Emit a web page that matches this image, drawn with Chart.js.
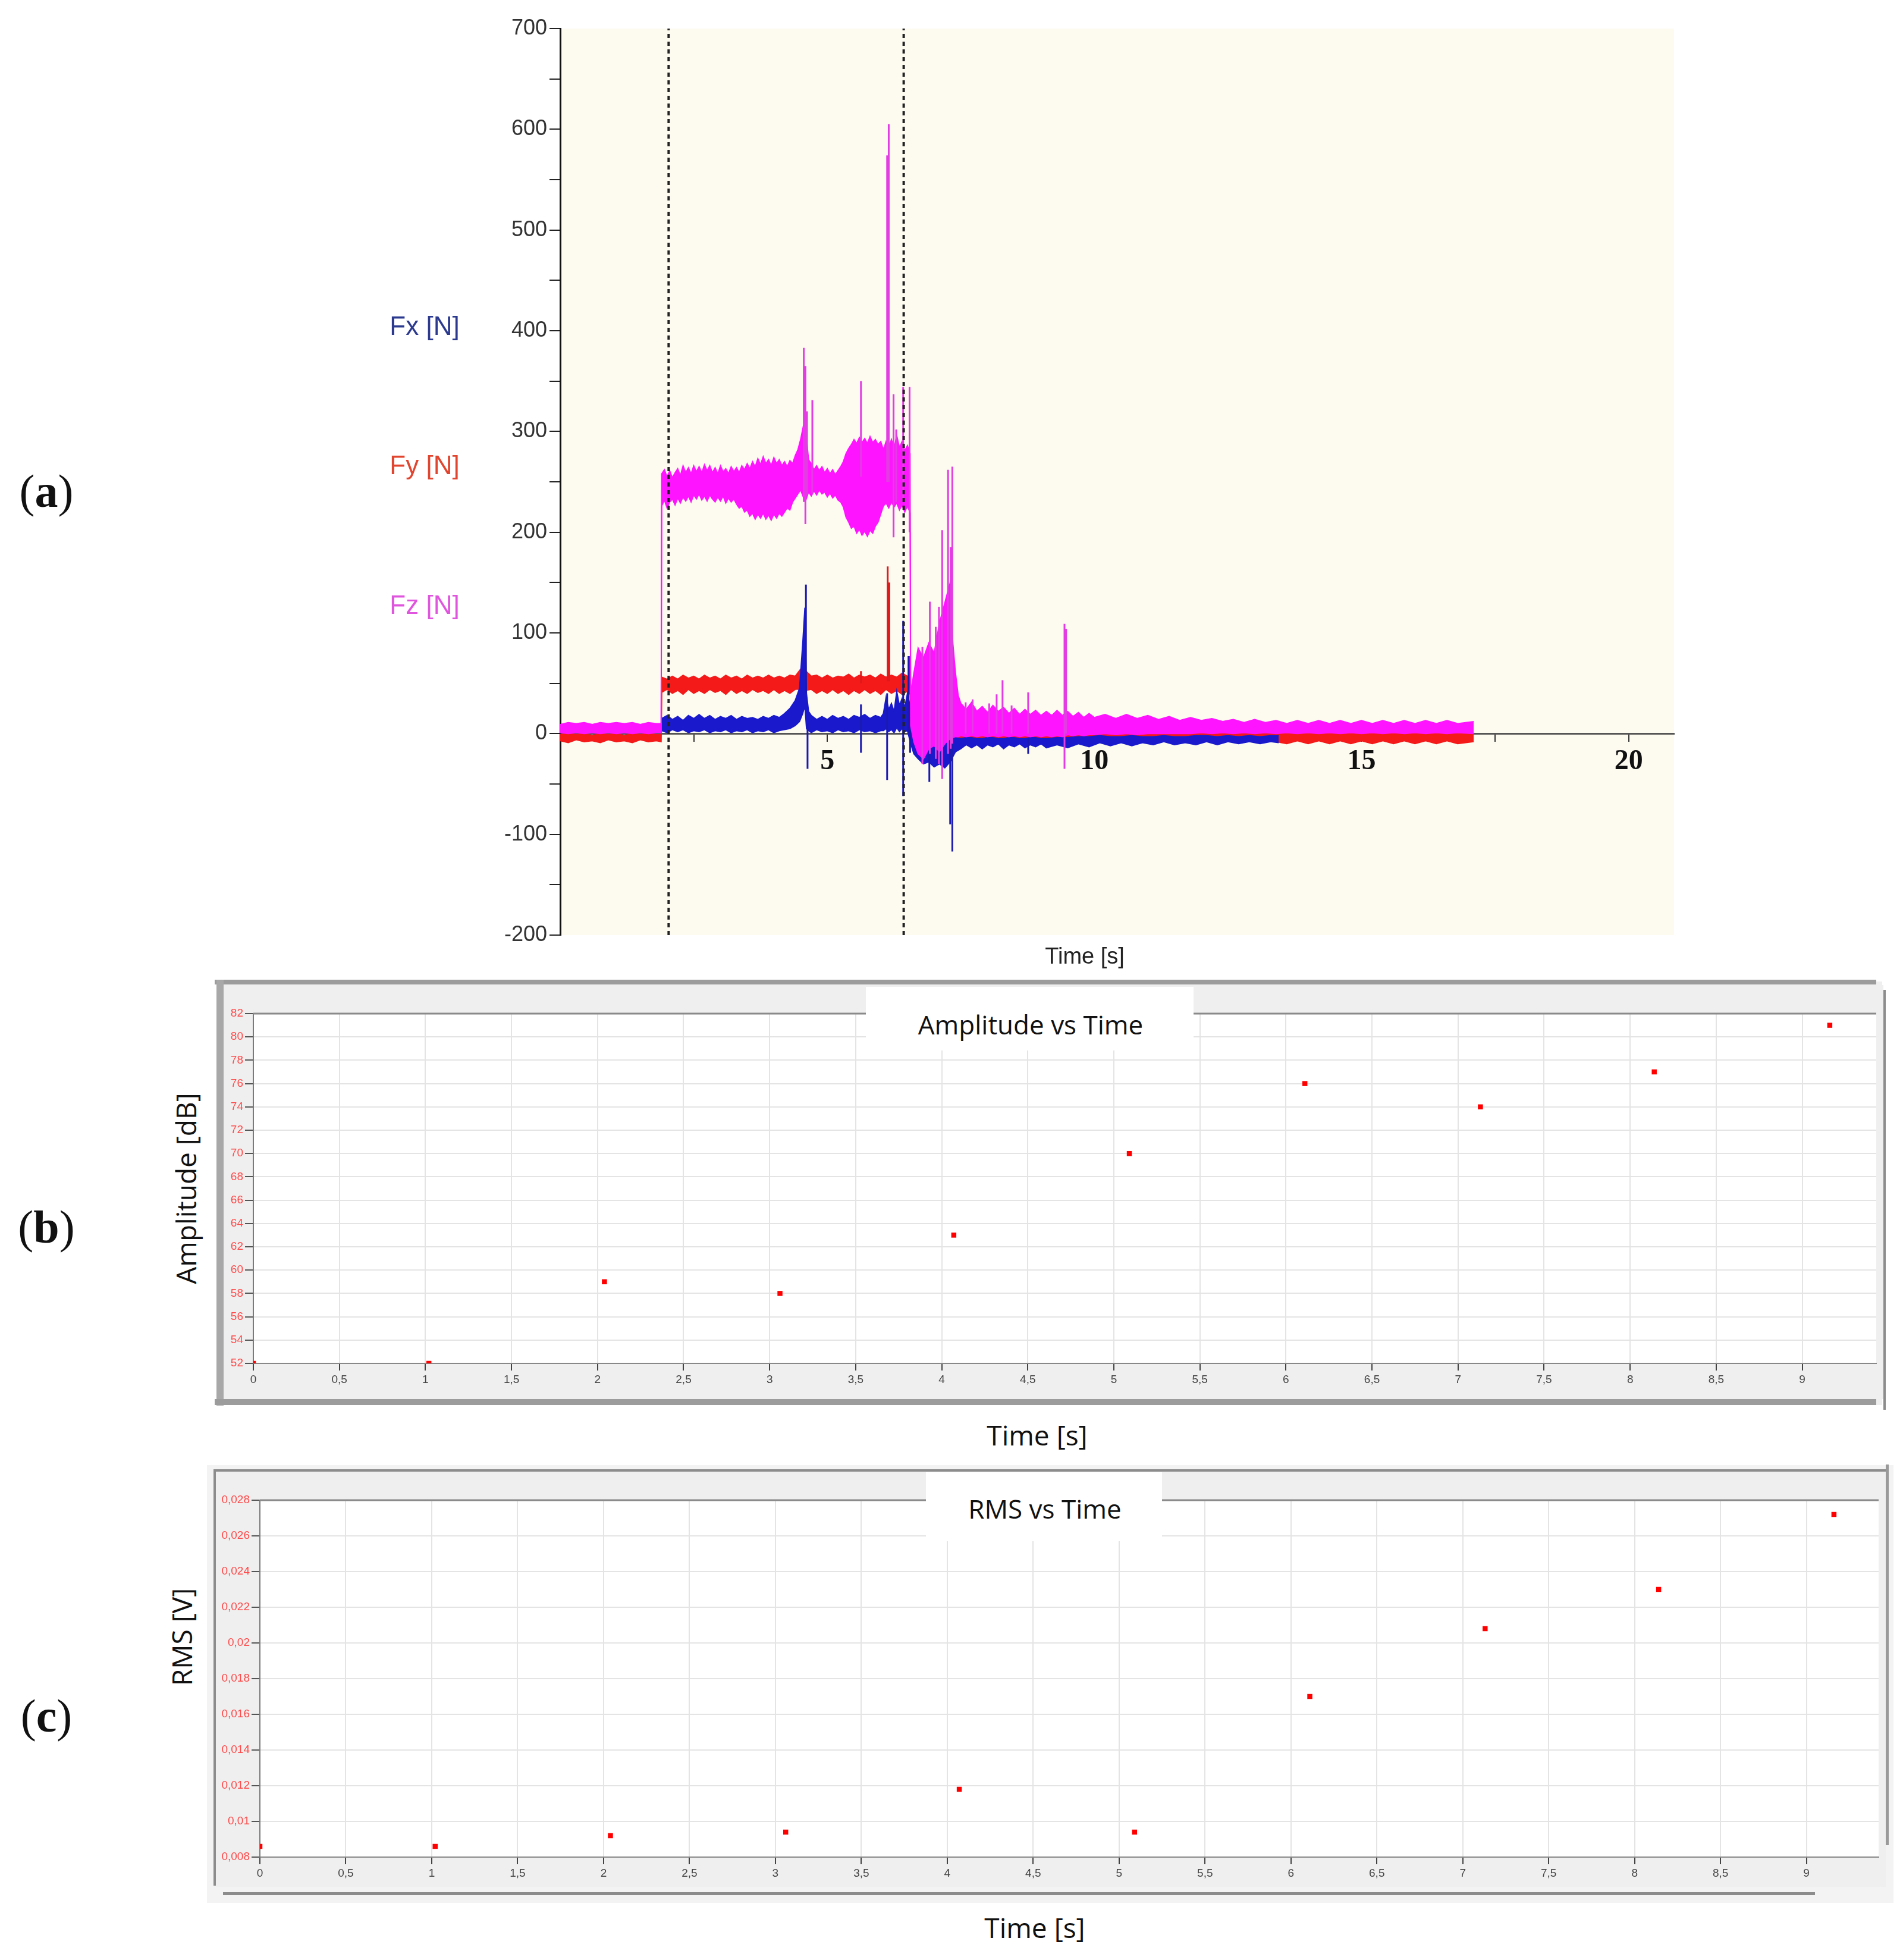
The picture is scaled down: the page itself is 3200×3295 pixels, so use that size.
<!DOCTYPE html>
<html><head><meta charset="utf-8">
<script src="https://cdn.jsdelivr.net/npm/chart.js@4.4.0/dist/chart.umd.min.js"></script>
<style>
html,body{margin:0;padding:0;background:#fff;}
body{position:relative;width:3200px;height:3295px;overflow:hidden;}
.abs{position:absolute;}
.lbl{position:absolute;white-space:nowrap;transform:translate(-50%,-50%);line-height:1;}
.rot{transform:translate(-50%,-50%) rotate(-90deg);}
canvas{position:absolute;display:block;}
</style></head><body>

<!-- panel (b) frame -->
<div class="abs" style="left:365px;top:1650px;width:2800px;height:712px;background:#EFEFEF;"></div>
<div class="abs" style="left:361px;top:1647px;width:2794px;height:8px;background:#9C9C9C;"></div>
<div class="abs" style="left:364px;top:1647px;width:12px;height:716px;background:#A8A8A8;"></div>
<div class="abs" style="left:361px;top:2352px;width:2794px;height:10px;background:#9C9C9C;"></div>
<div class="abs" style="left:3167px;top:1664px;width:4px;height:706px;background:#8C8C8C;"></div>

<!-- panel (c) frame -->
<div class="abs" style="left:348px;top:2463px;width:2836px;height:736px;background:#F3F3F3;"></div>
<div class="abs" style="left:360px;top:2470px;width:2815px;height:4px;background:#8C8C8C;"></div>
<div class="abs" style="left:359px;top:2470px;width:4px;height:700px;background:#8C8C8C;"></div>
<div class="abs" style="left:3171px;top:2462px;width:5px;height:640px;background:#9A9A9A;"></div>
<div class="abs" style="left:375px;top:3181px;width:2677px;height:5px;background:#8C8C8C;"></div>

<canvas id="cA" width="3200" height="1640" style="left:0;top:0;"></canvas>
<canvas id="cB" width="2790" height="696" style="left:377px;top:1656px;"></canvas>
<canvas id="cC" width="2808" height="698" style="left:363px;top:2474px;"></canvas>

<!-- title boxes -->
<div class="abs" style="left:1456px;top:1659px;width:551px;height:107px;background:#fff;"></div>
<div class="lbl" style="left:1733px;top:1722px;font:44px 'Open Sans';color:#111;">Amplitude vs Time</div>
<div class="abs" style="left:1557px;top:2475px;width:397px;height:116px;background:#fff;"></div>
<div class="lbl" style="left:1757px;top:2536px;font:44px 'Open Sans';color:#111;">RMS vs Time</div>

<!-- panel letters -->
<div class="lbl" style="left:78px;top:826px;font:78px 'Liberation Serif';color:#111;">(<b>a</b>)</div>
<div class="lbl" style="left:78px;top:2063px;font:78px 'Liberation Serif';color:#111;">(<b>b</b>)</div>
<div class="lbl" style="left:78px;top:2885px;font:78px 'Liberation Serif';color:#111;">(<b>c</b>)</div>

<!-- force labels -->
<div class="lbl" style="left:714px;top:548px;font:44px 'Liberation Sans';color:#2B3A8F;">Fx [N]</div>
<div class="lbl" style="left:714px;top:782px;font:44px 'Liberation Sans';color:#E2452F;">Fy [N]</div>
<div class="lbl" style="left:714px;top:1017px;font:44px 'Liberation Sans';color:#E055DD;">Fz [N]</div>
<div class="lbl" style="left:1824px;top:1607px;font:38px 'Liberation Sans';color:#222;">Time [s]</div>

<!-- axis titles b/c -->
<div class="lbl rot" style="left:312px;top:1998px;font:46px 'Open Sans';color:#111;">Amplitude [dB]</div>
<div class="lbl" style="left:1744px;top:2412px;font:46px 'Open Sans';color:#111;">Time [s]</div>
<div class="lbl rot" style="left:305px;top:2752px;font:46px 'Open Sans';color:#111;">RMS [V]</div>
<div class="lbl" style="left:1740px;top:3240px;font:46px 'Open Sans';color:#111;">Time [s]</div>

<script>
// ---------- (a) force signals: rows are [time s, low N, high N] ----------
const fzBand = [
[0,1,9],[0.15,0,11],[0.3,1,10],[0.45,0,11],[0.6,1,9],[0.75,0,11],[0.9,1,10],[1.05,0,11],[1.2,1,10],[1.35,0,11],[1.5,1,9],[1.65,0,11],[1.8,1,10],[1.89,1,10],
[1.9,226,258],[1.95,232,262],[2.0,224,255],[2.05,230,261],[2.1,233,254],[2.15,227,259],[2.2,234,263],[2.25,229,256],[2.3,235,266],[2.35,231,259],[2.4,236,264],[2.45,230,258],[2.5,237,266],[2.55,233,260],[2.6,238,265],[2.65,232,259],[2.7,236,267],[2.75,231,261],[2.8,237,266],[2.85,233,259],[2.9,230,264],[2.95,235,258],[3.0,231,266],[3.05,236,260],[3.1,229,263],[3.15,234,258],[3.2,230,265],[3.25,233,260],[3.3,228,264],[3.35,224,259],[3.4,226,266],[3.45,220,262],[3.5,222,268],[3.55,216,263],[3.6,219,270],[3.65,213,265],[3.7,218,273],[3.75,214,267],[3.8,219,275],[3.85,213,268],[3.9,217,272],[3.95,212,266],[4.0,218,274],[4.05,214,268],[4.1,219,272],[4.15,216,266],[4.2,220,270],[4.25,224,265],[4.3,222,271],[4.35,230,268],[4.4,234,276],[4.45,238,282],[4.5,242,292],[4.55,235,305],[4.6,232,298],[4.65,240,272],[4.7,236,268],[4.75,241,262],[4.8,237,266],[4.85,242,261],[4.9,238,265],[4.95,240,259],[5.0,235,263],[5.05,239,258],[5.1,234,262],[5.15,237,257],[5.2,232,261],[5.25,230,265],[5.3,225,270],[5.35,215,278],[5.4,210,283],[5.45,204,287],[5.5,206,292],[5.55,199,288],[5.6,203,294],[5.65,197,289],[5.7,201,293],[5.75,196,288],[5.8,202,295],[5.85,199,289],[5.9,206,292],[5.95,210,287],[6.0,218,290],[6.05,226,282],[6.1,229,290],[6.15,224,284],[6.2,230,292],[6.25,225,283],[6.3,229,296],[6.35,222,284],[6.4,227,290],[6.45,220,281],[6.5,226,286],[6.55,219,278],
[6.56,8,40],[6.62,-8,60],[6.7,-20,85],[6.8,-25,75],[6.9,-15,90],[7.0,-12,80],[7.1,-18,110],[7.2,-10,130],[7.3,-5,150],[7.35,-4,90],[7.4,-3,60],
[7.45,-3,38],[7.5,-2,30],[7.6,-3,24],[7.7,-2,31],[7.8,-3,22],[7.9,-2,27],[8.0,-3,21],[8.1,-2,28],[8.2,-3,22],[8.3,-2,26],[8.4,-3,20],[8.5,-2,25],[8.6,-3,19],[8.7,-2,24],[8.8,-3,19],[8.9,-2,23],[9.0,-3,18],[9.1,-2,22],[9.2,-3,18],[9.3,-2,23],[9.4,-3,18],[9.5,-1,22],[9.6,-2,17],[9.7,-1,21],[9.8,-2,16],[9.9,-1,20],[10.0,-1,16],[10.2,0,19],[10.4,-1,15],[10.6,0,19],[10.8,-1,15],[11.0,0,18],[11.2,0,14],[11.4,0,17],[11.6,0,13],[11.8,0,16],[12.0,1,13],[12.2,0,15],[12.4,1,12],[12.6,0,14],[12.8,1,11],[13.0,0,14],[13.2,1,11],[13.4,0,13],[13.6,1,10],[13.8,0,13],[14.0,1,10],[14.2,0,13],[14.4,1,10],[14.6,0,13],[14.8,1,10],[15.0,0,13],[15.2,1,10],[15.4,0,13],[15.6,1,10],[15.8,0,13],[16.0,1,10],[16.2,0,13],[16.4,1,10],[16.6,0,13],[16.8,1,10],[17.1,0,12]
];
const fzSpikes = [
[4.56,230,383],[4.59,208,365],[4.62,236,320],[4.72,238,331],[5.63,255,350],[6.12,250,574],[6.15,250,605],[6.24,195,337],[6.29,230,302],[6.42,230,344],[6.54,200,344],
[6.78,-30,86],[6.92,-20,131],[7.03,-25,106],[7.09,-30,126],[7.15,-45,202],[7.26,-20,262],[7.31,-15,185],[7.34,-10,265],
[7.59,0,31],[7.72,0,34],[8.03,0,30],[8.17,0,39],[8.28,0,53],[8.45,0,28],[8.76,0,41],[9.44,-35,109],[9.47,0,104]
];
const fyBand = [
[0,-7,-1],[0.15,-9,0],[0.3,-6,-1],[0.45,-8,0],[0.6,-7,-2],[0.75,-9,0],[0.9,-6,-1],[1.05,-8,0],[1.2,-7,-2],[1.35,-9,0],[1.5,-6,-1],[1.65,-8,0],[1.8,-7,-1],[1.89,-8,-1],
[1.9,41,56],[2.0,44,54],[2.1,40,57],[2.2,43,54],[2.3,39,58],[2.4,44,55],[2.5,40,57],[2.6,43,54],[2.7,40,58],[2.8,44,55],[2.9,41,57],[3.0,43,54],[3.1,39,58],[3.2,44,55],[3.3,40,57],[3.4,43,54],[3.5,40,58],[3.6,44,55],[3.7,41,57],[3.8,43,55],[3.9,40,58],[4.0,44,55],[4.1,40,57],[4.2,43,55],[4.3,40,58],[4.4,44,57],[4.5,44,64],[4.55,47,68],[4.6,43,62],[4.7,44,57],[4.8,40,58],[4.9,43,55],[5.0,40,58],[5.1,44,55],[5.2,40,57],[5.3,43,56],[5.4,39,59],[5.5,43,55],[5.6,40,58],[5.7,44,56],[5.8,40,58],[5.9,43,55],[6.0,39,59],[6.1,44,56],[6.2,40,58],[6.3,43,56],[6.4,39,60],[6.5,42,57],[6.55,39,58],
[6.58,-4,3],[6.8,-6,2],[7.0,-5,1],[7.5,-6,0],[8.5,-6,0],[9.5,-6,0],[10.5,-6,0],[11.5,-7,0],[12.5,-7,0],[13.4,-8,1],[13.6,-10,1],[13.8,-7,0],[14.0,-10,1],[14.2,-7,0],[14.4,-10,1],[14.6,-7,0],[14.8,-10,1],[15.0,-7,0],[15.2,-10,1],[15.4,-7,0],[15.6,-10,1],[15.8,-7,0],[16.0,-10,1],[16.2,-7,0],[16.4,-10,1],[16.6,-7,0],[16.8,-10,1],[17.1,-8,1]
];
const fySpikes = [[4.58,50,70],[5.63,50,62],[6.13,52,166],[6.16,52,150],[6.54,45,77]];
const fxBand = [
[1.9,3,15],[2.0,1,18],[2.1,4,14],[2.2,2,17],[2.3,4,13],[2.4,1,18],[2.5,3,15],[2.6,2,19],[2.7,4,15],[2.8,1,18],[2.9,3,14],[3.0,2,17],[3.1,4,15],[3.2,1,18],[3.3,3,14],[3.4,2,17],[3.5,4,15],[3.6,1,16],[3.7,3,14],[3.8,2,17],[3.9,4,15],[4.0,1,18],[4.1,3,16],[4.2,4,20],[4.3,5,25],[4.4,8,33],[4.48,12,45],[4.54,20,90],[4.58,28,125],[4.61,5,40],[4.65,3,22],[4.7,1,18],[4.8,4,14],[4.9,2,17],[5.0,3,14],[5.1,1,18],[5.2,4,15],[5.3,2,17],[5.4,3,14],[5.5,1,18],[5.6,4,16],[5.7,2,19],[5.8,3,15],[5.9,1,18],[6.0,3,16],[6.05,3,20],[6.1,5,36],[6.15,2,24],[6.2,4,30],[6.25,1,22],[6.3,6,42],[6.35,2,28],[6.4,5,35],[6.45,2,26],[6.5,3,40],
[6.56,-10,25],[6.62,-20,10],[6.7,-25,5],[6.8,-30,2],[6.9,-28,0],[7.0,-33,0],[7.1,-30,-2],[7.2,-34,-2],[7.3,-28,-3],[7.4,-18,-4],[7.5,-15,-5],[7.6,-11,-4],[7.7,-14,-4],[7.8,-11,-5],[7.9,-15,-5],[8.0,-11,-4],[8.1,-13,-4],[8.2,-10,-5],[8.3,-15,-5],[8.4,-11,-4],[8.5,-13,-4],[8.6,-10,-5],[8.7,-14,-5],[8.8,-11,-4],[8.9,-13,-4],[9.0,-10,-5],[9.1,-14,-5],[9.3,-11,-4],[9.5,-14,-4],[9.7,-10,-3],[9.9,-13,-3],[10.1,-9,-2],[10.3,-12,-3],[10.5,-9,-3],[10.7,-12,-2],[10.9,-9,-3],[11.1,-11,-3],[11.3,-8,-2],[11.5,-11,-3],[11.7,-9,-3],[11.9,-11,-2],[12.1,-8,-2],[12.3,-11,-3],[12.5,-8,-2],[12.7,-10,-3],[12.9,-8,-2],[13.1,-10,-3],[13.3,-8,-2],[13.45,-9,-2]
];
const fxSpikes = [[4.6,40,148],[4.63,-35,10],[5.63,-19,29],[6.12,-46,40],[6.42,-62,112],[6.52,0,77],[6.55,-19,20],[6.91,-48,0],[7.11,-30,0],[7.3,-90,-10],[7.34,-117,-10],[8.76,-20,-5]];
const cutTimes = [2.03, 6.43];
const forceRange = [-200, 700];
const timeRangeA = [0, 20.85];
const timeTicksA = [2.5, 5, 7.5, 10, 12.5, 15, 17.5, 20];

// ---------- (b) amplitude and (c) RMS ----------
const eventTime = [0, 1.02, 2.04, 3.06, 4.07, 5.09, 6.11, 7.13, 8.14, 9.16];
const amplitudeDb = [52, 52, 59, 58, 63, 70, 76, 74, 77, 81];
const rmsVolt = [0.0086, 0.0086, 0.0092, 0.0094, 0.0118, 0.0094, 0.0170, 0.0208, 0.0230, 0.0272];
const timeTicksBC = [0, 0.5, 1, 1.5, 2, 2.5, 3, 3.5, 4, 4.5, 5, 5.5, 6, 6.5, 7, 7.5, 8, 8.5, 9];
const ampTicks = [52, 54, 56, 58, 60, 62, 64, 66, 68, 70, 72, 74, 76, 78, 80, 82];
const rmsTicks = [0.008, 0.010, 0.012, 0.014, 0.016, 0.018, 0.020, 0.022, 0.024, 0.026, 0.028];

Chart.defaults.font.family = "'Liberation Sans', Arial, sans-serif";

const COL_FX = '#1A1ACC', COL_FY = '#F41A1A', COL_FZ = '#FF14FF';

function bandSets(rows, color, order, name) {
  return [
    {label: name + ' high', data: rows.map(r => ({x: r[0], y: r[2]})), borderColor: color, backgroundColor: color,
     borderWidth: 2, pointRadius: 0, tension: 0, fill: '+1', order},
    {label: name + ' low', data: rows.map(r => ({x: r[0], y: r[1]})), borderColor: color, backgroundColor: color,
     borderWidth: 2, pointRadius: 0, tension: 0, fill: false, order}
  ];
}
function spikeSet(rows, color, order, name) {
  const data = [];
  rows.forEach(r => { data.push({x: r[0], y: r[1]}, {x: r[0], y: r[2]}, {x: r[0], y: null}); });
  return {label: name + ' spikes', data, borderColor: color, borderWidth: 3, pointRadius: 0, spanGaps: false, fill: false, order};
}

const cutSets = cutTimes.map(t => ({
  label: 'cut', data: [{x: t, y: forceRange[0]}, {x: t, y: forceRange[1]}],
  borderColor: '#222', borderWidth: 4, borderDash: [7, 6], pointRadius: 0, fill: false, order: 0
}));

const creamArea = {
  id: 'creamArea',
  beforeDraw(chart) {
    const {ctx, chartArea: a} = chart;
    ctx.save(); ctx.fillStyle = '#FDFAF0';
    ctx.fillRect(a.left, a.top, a.right - a.left, a.bottom - a.top); ctx.restore();
  }
};

new Chart(document.getElementById('cA'), {
  type: 'line',
  data: {datasets: [
    ...cutSets,
    spikeSet(fzSpikes, '#E23CE2', 1, 'Fz'),
    ...bandSets(fzBand, COL_FZ, 2, 'Fz'),
    spikeSet(fxSpikes, '#1A1AB0', 3, 'Fx'),
    ...bandSets(fxBand, COL_FX, 4, 'Fx'),
    spikeSet(fySpikes, '#E01818', 5, 'Fy'),
    ...bandSets(fyBand, COL_FY, 6, 'Fy')
  ]},
  options: {
    responsive: false, animation: false, devicePixelRatio: 1,
    layout: {padding: {left: 800, right: 385, top: 48, bottom: 68}},
    plugins: {legend: {display: false}, tooltip: {enabled: false}},
    scales: {
      x: {
        type: 'linear', min: timeRangeA[0], max: timeRangeA[1], position: {y: 0},
        afterBuildTicks: s => { s.ticks = timeTicksA.map(v => ({value: v})); },
        ticks: {callback: v => (v % 5 === 0 ? String(v) : ''), autoSkip: false, maxRotation: 0,
                font: {family: "'Liberation Serif', serif", size: 48, weight: 'bold'}, color: '#111', padding: 6},
        grid: {display: true, drawOnChartArea: false, drawTicks: true, tickLength: 12, tickColor: '#333', lineWidth: 2},
        border: {display: true, color: '#555', width: 3}
      },
      y: {
        min: forceRange[0], max: forceRange[1],
        afterFit: s => { s.width = 142; },
        ticks: {stepSize: 50, callback: v => (v % 100 === 0 ? String(v) : ''), font: {size: 36}, color: '#333', padding: 4},
        grid: {display: true, drawOnChartArea: false, drawTicks: true, tickLength: 18, tickColor: '#222', lineWidth: 2},
        border: {display: true, color: '#111', width: 3}
      }
    }
  },
  plugins: [creamArea]
});

function panelPlugin(topLineColor) {
  return {
    id: 'panelBg',
    beforeDraw(chart) {
      const {ctx, chartArea: a, width, height} = chart;
      ctx.save();
      ctx.fillStyle = '#EFEFEF'; ctx.fillRect(0, 0, width, height);
      ctx.fillStyle = '#FFFFFF'; ctx.fillRect(a.left, a.top, a.right - a.left, a.bottom - a.top);
      ctx.restore();
    },
    afterDraw(chart) {
      const {ctx, chartArea: a} = chart;
      ctx.save(); ctx.strokeStyle = topLineColor; ctx.lineWidth = 3;
      ctx.beginPath(); ctx.moveTo(a.left, a.top); ctx.lineTo(a.right, a.top); ctx.stroke(); ctx.restore();
    }
  };
}

function scatterPanel(canvasId, values, yTicks, yFmt, yWidth, xHeight, padTop, padRight, xMax) {
  return new Chart(document.getElementById(canvasId), {
    type: 'scatter',
    data: {datasets: [{
      data: eventTime.map((t, i) => ({x: t, y: values[i]})),
      pointStyle: 'rect', pointRadius: 6, borderWidth: 0, backgroundColor: '#FF0000', borderColor: '#FF0000'
    }]},
    options: {
      responsive: false, animation: false, devicePixelRatio: 1,
      layout: {padding: {left: 0, right: padRight, top: padTop, bottom: 0}},
      plugins: {legend: {display: false}, tooltip: {enabled: false}},
      scales: {
        x: {
          type: 'linear', min: 0, max: xMax,
          afterBuildTicks: s => { s.ticks = timeTicksBC.map(v => ({value: v})); },
          afterFit: s => { s.height = xHeight; },
          ticks: {callback: v => String(v).replace('.', ','), autoSkip: false, maxRotation: 0,
                  font: {size: 19}, color: '#444', padding: 4},
          grid: {color: '#E4E4E4', lineWidth: 2, tickLength: 12, tickColor: '#444', tickWidth: 2},
          border: {display: true, color: '#888', width: 2}
        },
        y: {
          min: yTicks[0], max: yTicks[yTicks.length - 1],
          afterBuildTicks: s => { s.ticks = yTicks.map(v => ({value: v})); },
          afterFit: s => { s.width = yWidth; },
          ticks: {callback: yFmt, font: {size: 19}, color: '#FF4A4A', padding: 3},
          grid: {color: '#E4E4E4', lineWidth: 2, tickLength: 14, tickColor: '#555', tickWidth: 2},
          border: {display: true, color: '#7A7A7A', width: 2}
        }
      }
    },
    plugins: [panelPlugin('#8A8A8A')]
  });
}

scatterPanel('cB', amplitudeDb, ampTicks, v => String(v), 49, 60, 48, 12, 9.43);
scatterPanel('cC', rmsVolt, rmsTicks, v => String(+v.toFixed(3)).replace('.', ','), 74, 50, 48, 12, 9.42);
</script>
</body></html>
